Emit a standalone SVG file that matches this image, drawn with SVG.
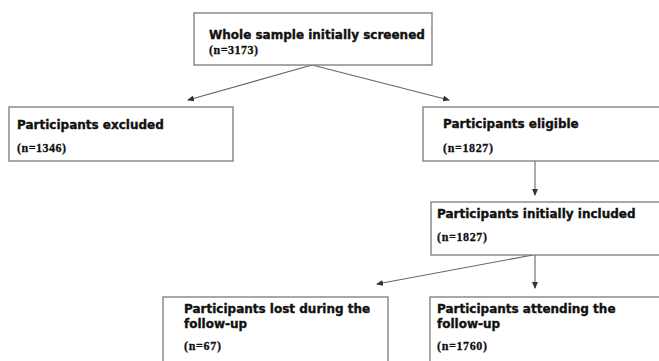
<svg xmlns="http://www.w3.org/2000/svg" width="659" height="361" viewBox="0 0 659 361">
<style>
.box{fill:#fff;stroke:#7a7a7a;stroke-width:1.3}
.t{font-family:"DejaVu Sans",Verdana,sans-serif;font-weight:bold;font-size:12px;fill:#111;stroke:#111;stroke-width:0.35}
.n{font-family:"Liberation Serif","Times New Roman",serif;font-weight:bold;font-size:12px;fill:#111;stroke:#111;stroke-width:0.3}
.c{stroke:#666;stroke-width:1.1;fill:none;marker-end:url(#ah)}
</style>
<defs>
<marker id="ah" markerWidth="7" markerHeight="6" refX="6" refY="3" orient="auto" markerUnits="userSpaceOnUse">
<path d="M0,0 L7,3 L0,6 Z" fill="#333"/>
</marker>
</defs>
<rect width="659" height="361" fill="#fff"/>
<g id="connectors">
<line class="c" x1="312" y1="65" x2="188" y2="100"/>
<line class="c" x1="312" y1="65" x2="449" y2="100"/>
<line class="c" x1="535" y1="161" x2="535" y2="195"/>
<line class="c" x1="533" y1="255" x2="377" y2="284"/>
<line class="c" x1="535" y1="255" x2="535" y2="288"/>
</g>
<g id="screened">
<rect class="box" x="194" y="13" width="238" height="52"/>
<text class="t" x="209" y="39">Whole sample initially screened</text>
<text class="n" x="209" y="54" textLength="49">(n=3173)</text>
</g>
<g id="excluded">
<rect class="box" x="9" y="107" width="224" height="54"/>
<text class="t" x="17" y="129">Participants excluded</text>
<text class="n" x="17" y="151.5" textLength="49">(n=1346)</text>
</g>
<g id="eligible">
<rect class="box" x="423" y="107" width="260" height="54"/>
<text class="t" x="443" y="128">Participants eligible</text>
<text class="n" x="443" y="152" textLength="50">(n=1827)</text>
</g>
<g id="included">
<rect class="box" x="431" y="202" width="260" height="53"/>
<text class="t" x="437" y="218">Participants initially included</text>
<text class="n" x="437" y="241" textLength="50">(n=1827)</text>
</g>
<g id="lost">
<rect class="box" x="163" y="297" width="225" height="80"/>
<text class="t" x="184" y="313">Participants lost during the</text>
<text class="t" x="184" y="328">follow-up</text>
<text class="n" x="184" y="350" textLength="37">(n=67)</text>
</g>
<g id="attending">
<rect class="box" x="430" y="297" width="260" height="80"/>
<text class="t" x="437" y="313">Participants attending the</text>
<text class="t" x="437" y="328">follow-up</text>
<text class="n" x="437" y="350" textLength="50">(n=1760)</text>
</g>
</svg>
